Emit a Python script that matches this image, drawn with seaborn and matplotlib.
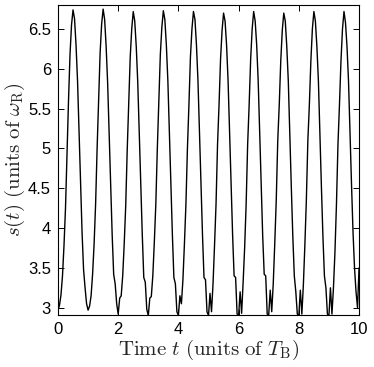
import numpy as np
import pandas as pd
import matplotlib
matplotlib.use("Agg")
import matplotlib.pyplot as plt
import seaborn as sns
from matplotlib.ticker import FuncFormatter, MultipleLocator

# s(t), one list per period (t = n .. n+0.95, step 0.05)
period_0 = [2.97, 3.03, 3.16, 3.40, 3.78, 4.25, 4.95, 5.60, 6.18, 6.55, 6.74, 6.63, 6.30, 5.85, 5.22, 4.58, 3.95, 3.48, 3.25, 3.05]
period_1 = [2.97, 3.02, 3.15, 3.42, 3.80, 4.30, 5.00, 5.62, 6.20, 6.56, 6.75, 6.62, 6.28, 5.82, 5.20, 4.55, 3.92, 3.42, 3.30, 3.05]
period_2 = [2.92, 3.12, 3.15, 3.40, 3.80, 4.28, 4.98, 5.58, 6.15, 6.50, 6.72, 6.60, 6.28, 5.83, 5.18, 4.55, 3.92, 3.38, 3.32, 2.98]
period_3 = [2.90, 3.12, 3.14, 3.40, 3.82, 4.30, 5.00, 5.60, 6.18, 6.52, 6.73, 6.62, 6.30, 5.85, 5.20, 4.55, 3.92, 3.38, 3.30, 2.95]
period_4 = [2.90, 3.15, 3.05, 3.35, 3.80, 4.30, 5.00, 5.55, 6.15, 6.50, 6.72, 6.62, 6.30, 5.85, 5.20, 4.55, 3.92, 3.38, 3.35, 2.95]
period_5 = [2.90, 3.18, 2.95, 3.30, 3.78, 4.30, 5.05, 5.55, 6.12, 6.48, 6.70, 6.60, 6.30, 5.85, 5.20, 4.55, 3.92, 3.40, 3.38, 2.92]
period_6 = [2.90, 3.20, 2.93, 3.32, 3.75, 4.30, 5.05, 5.55, 6.12, 6.50, 6.72, 6.60, 6.30, 5.85, 5.18, 4.55, 3.90, 3.42, 3.40, 2.92]
period_7 = [2.91, 3.22, 2.95, 3.30, 3.80, 4.35, 5.10, 5.55, 6.10, 6.48, 6.70, 6.60, 6.28, 5.85, 5.18, 4.52, 3.90, 3.40, 3.20, 2.92]
period_8 = [2.90, 3.22, 2.92, 3.28, 3.78, 4.35, 5.10, 5.55, 6.10, 6.50, 6.72, 6.60, 6.28, 5.85, 5.18, 4.52, 3.90, 3.40, 3.25, 2.92]
period_9 = [2.90, 3.25, 2.92, 3.25, 3.70, 4.30, 5.05, 5.55, 6.10, 6.50, 6.72, 6.58, 6.28, 5.85, 5.18, 4.55, 3.95, 3.50, 3.20, 3.00]
end_value = [3.50]

s_values = (period_0 + period_1 + period_2 + period_3 + period_4 + period_5
            + period_6 + period_7 + period_8 + period_9 + end_value)
t_values = np.round(np.arange(len(s_values)) * 0.05, 2)

df = pd.DataFrame({"t": t_values, "s": s_values})

sns.set_style("ticks")
plt.rcParams["mathtext.fontset"] = "cm"
plt.rcParams["font.family"] = ["Liberation Sans", "DejaVu Sans"]

fig = plt.figure(figsize=(3.74, 3.67), dpi=100)
ax = fig.add_axes([0.155, 0.142, 0.805, 0.844])

sns.lineplot(data=df, x="t", y="s", color="black", linewidth=1.0, ax=ax)

ax.set_xlim(0, 10)
ax.set_ylim(2.91, 6.8)
ax.xaxis.set_major_locator(MultipleLocator(2))
ax.yaxis.set_major_locator(MultipleLocator(0.5))
ax.yaxis.set_major_formatter(FuncFormatter(lambda v, p: "%g" % v))
ax.tick_params(direction="in", length=4, width=0.7, top=True, right=True,
               labelsize=12, colors="black", pad=5)
for sp in ax.spines.values():
    sp.set_linewidth(0.8)
    sp.set_color("black")

ax.set_xlabel(r"$\mathrm{Time}\ t\ \mathrm{(units\ of}\ T_\mathrm{B})$", fontsize=15, labelpad=1)
ax.set_ylabel(r"$s(t)\ \mathrm{(units\ of}\ \omega_\mathrm{R})$", fontsize=15, labelpad=0.5)

fig.savefig("out.png", dpi=100)
